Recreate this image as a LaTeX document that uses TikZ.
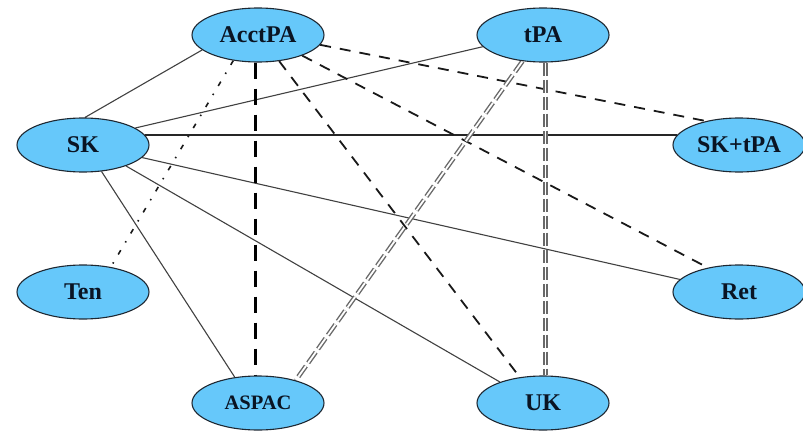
\documentclass[tikz,border=0pt]{standalone}
\usepackage{fontspec}
\setmainfont{Liberation Serif}
\usetikzlibrary{shapes.geometric,backgrounds}
\definecolor{nodefill}{RGB}{102,200,250}
\definecolor{nodeedge}{RGB}{30,40,50}
\definecolor{nodetext}{RGB}{10,20,35}
\definecolor{linkgray}{RGB}{65,65,65}
\definecolor{dblgray}{RGB}{105,105,105}
\tikzset{
  drug/.style={ellipse, draw=nodeedge, line width=1.1pt, fill=nodefill,
    minimum width=132pt, minimum height=54pt, inner sep=0pt, text=nodetext,
    font=\fontsize{24}{26}\selectfont\bfseries},
  smalldrug/.style={drug, font=\fontsize{20.5}{22}\selectfont\bfseries},
  solidlink/.style={draw=linkgray, line width=1.1pt},
  mainlink/.style={draw=black!85, line width=1.4pt},
  dashlink/.style={draw=black!90, line width=1.8pt, dash pattern=on 11pt off 9pt},
  heavydash/.style={draw=black, line width=2.3pt, dash pattern=on 16pt off 10pt},
  dotlink/.style={draw=black!90, line width=1.6pt, dash pattern=on 5pt off 9pt on 1.5pt off 9pt},
  doublelink/.style={draw=dblgray, line width=1.4pt, double=white, double distance=1.8pt,
    dash pattern=on 13pt off 4pt},
}
\begin{document}
\begin{tikzpicture}[x=1pt,y=-1pt]
\useasboundingbox (0,0) rectangle (803,431);

% treatments
\node[drug] (AcctPA) at (258,35) {AcctPA};
\node[drug] (tPA) at (543,35) {tPA};
\node[drug] (SK) at (83,145) {SK};
\node[drug] (SKtPA) at (739,145) {SK+tPA};
\node[drug] (Ten) at (83,292) {Ten};
\node[drug] (Ret) at (739,292) {Ret};
\node[smalldrug] (ASPAC) at (258,403) {ASPAC};
\node[drug] (UK) at (543,403) {UK};

\begin{pgfonlayer}{background}
% solid comparisons from SK
\draw[solidlink] (SK.86) -- (AcctPA.195);
\draw[solidlink] (SK.18) -- (tPA.191);
\draw[mainlink] (SK.9) -- (SKtPA.171);
\draw[solidlink] (SK.-12) -- (Ret.168);
\draw[solidlink] (SK.-26) -- (UK.154);
\draw[solidlink] (SK.-55) -- (ASPAC.132);
% dashed comparisons from AcctPA
\draw[heavydash] (AcctPA.265) -- (ASPAC.95);
\draw[dashlink] (AcctPA.-51) -- (UK.132);
\draw[dashlink] (AcctPA.-25) -- (Ret.142);
\draw[dashlink] (AcctPA.-9) -- (SKtPA.144);
\draw[dotlink] (AcctPA.226) -- (Ten.42);
% double comparisons from tPA
\draw[doublelink] (tPA.232) -- (ASPAC.31);
\draw[doublelink] (tPA.275) -- (UK.85);
\end{pgfonlayer}
\end{tikzpicture}
\end{document}
